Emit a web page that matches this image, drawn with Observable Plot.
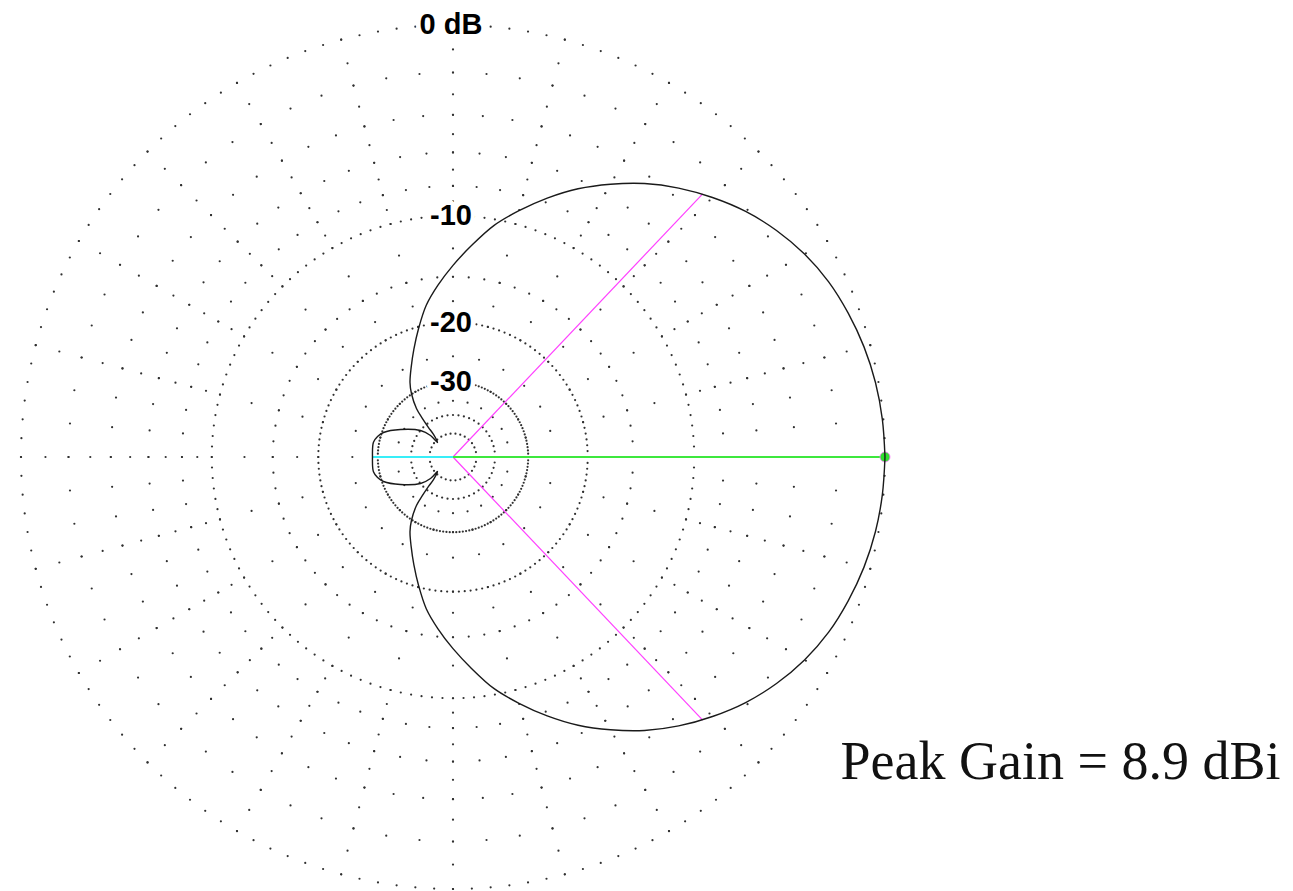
<!DOCTYPE html>
<html><head><meta charset="utf-8">
<script src="https://cdn.jsdelivr.net/npm/d3@7"></script>
<script src="https://cdn.jsdelivr.net/npm/@observablehq/plot@0.6"></script>
<style>
html,body{margin:0;padding:0;background:#fff;}
#chart{width:1293px;height:891px;overflow:hidden}
</style></head><body><div id="chart"></div>
<script>
// Azimuth pattern, upper half (deg CCW from right, dB rel. to peak).
// Main lobe runs to the null near 137 deg, then the back lobe continues to 180 deg.
const patternAngle = [0, 5, 10, 15, 20, 25, 30, 35, 40, 45, 50, 55, 60, 65, 70, 75, 80, 85, 90,
  95, 100, 105, 110, 115, 120, 123.2, 127.0, 128.4, 129.7, 130.9, 136.9,
  136.3, 140.8, 152.4, 160.6, 164.8, 169.5, 180];
const patternDb = [0, -0.04, -0.12, -0.26, -0.46, -0.71, -1.07, -1.54, -2.11, -2.80, -3.56, -4.42, -5.42, -6.49, -7.72, -9.05, -10.45, -12.2, -13.95,
  -15.76, -17.70, -20.22, -22.79, -25.29, -27.70, -29.85, -33.68, -37.32, -41.58, -45.89, -51.74,
  -45.16, -40.05, -34.08, -30.35, -29.34, -28.75, -28.83];

const peakAngle = [0];            const peakDb = [0];
const beamAngle = [46.5, -46.5];  const beamDb = [-3, -3];
const backAngle = [180];          const backDb = [-28.83];

const labelText = ["0 dB", "-10", "-20", "-30"];
const labelDb = [0, -10, -20, -30];
const peakGainText = ["Peak Gain = 8.9 dBi"];

// grid definition
const ringFineDb = [0, -10, -20, -30];     // dotted every 2.5 deg
const ringMidDb = [-2, -4, -6, -8, -15];   // dotted every 5 deg
const ringInnerDb = [-40, -50];
const radialDb = [0, -1, -2, -3, -4, -5, -6, -7, -8, -9, -10, -12.5, -15, -17.5, -20, -25, -30, -35];

// ARRL log scale: radius factor 0.89 per 2 dB
const rho = db => Math.pow(0.89, -db / 2);
const P = (a, db) => { const t = a * Math.PI / 180, r = rho(db); return {x: r * Math.cos(t), y: r * Math.sin(t), a, db}; };

const grid = [];
for (const db of ringFineDb) for (const a of d3.range(0, 360, 2.5)) grid.push(P(a, db));
for (const db of ringMidDb) for (const a of d3.range(0, 360, 5)) grid.push(P(a, db));
for (const a of d3.range(0, 360, 7.5)) grid.push(P(a, ringInnerDb[0]));
for (const a of d3.range(0, 360, 12)) grid.push(P(a, ringInnerDb[1]));
for (const a of d3.range(0, 360, 15)) for (const db of radialDb) grid.push(P(a, db));

const upper = patternAngle.map((a, i) => P(a, patternDb[i]));
const lower = patternAngle.slice(0, -1).map((a, i) => P(-a, patternDb[i])).reverse();
const trace = upper.concat(lower);

const center = P(0, -1000);
const beams = beamAngle.map((a, i) => P(a, beamDb[i]));
const peaks = peakAngle.map((a, i) => P(a, peakDb[i]));
const backs = backAngle.map((a, i) => P(a, backDb[i]));
const labels = labelText.map((t, i) => ({...P(90, labelDb[i]), t}));

const R = 432, cx = 452.5, cy = 456.5, W = 1293, H = 891;

const chart = Plot.plot({
  width: W, height: H, margin: 0,
  x: {domain: [-cx / R, (W - cx) / R], axis: null},
  y: {domain: [-(H - cy) / R, cy / R], axis: null},
  marks: [
    Plot.dot(grid, {x: "x", y: "y", r: 1.1, fill: "#303030", stroke: null}),
    Plot.text(labels, {x: "x", y: "y", text: "t", fontFamily: "Liberation Sans, Arial, sans-serif",
      fontWeight: "bold", fontSize: 29, fill: "black", stroke: "white", strokeWidth: 9, dx: -2}),
    Plot.link(beams, {x1: () => center.x, y1: () => center.y, x2: "x", y2: "y", stroke: "#ff40ff", strokeWidth: 1.2}),
    Plot.link(peaks, {x1: () => center.x, y1: () => center.y, x2: "x", y2: "y", stroke: "#3de83d", strokeWidth: 2}),
    Plot.link(backs, {x1: () => center.x, y1: () => center.y, x2: "x", y2: "y", stroke: "#38eef8", strokeWidth: 2}),
    Plot.dot(peaks, {x: "x", y: "y", r: 5, fill: "#2ee02e", stroke: "#ff77ff", strokeWidth: 0.8}),
    Plot.line(trace, {x: "x", y: "y", curve: "catmull-rom", stroke: "#1a1a1a", strokeWidth: 1.4}),
    Plot.text(peakGainText, {frameAnchor: "bottom-right", textAnchor: "end", lineAnchor: "bottom",
      dx: -13, dy: -113, fontFamily: "Liberation Serif, Times New Roman, serif", fontSize: 54, fill: "#111"})
  ]
});
document.getElementById("chart").appendChild(chart);
</script>
</body></html>
